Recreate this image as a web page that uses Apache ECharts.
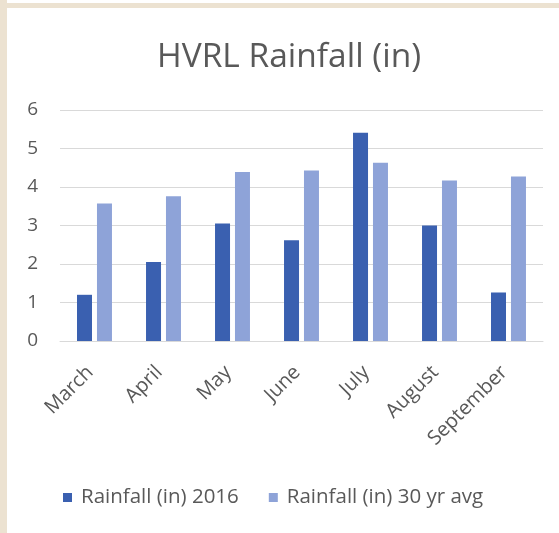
<!DOCTYPE html>
<html>
<head>
<meta charset="utf-8">
<script src="https://cdn.jsdelivr.net/npm/echarts@6/dist/echarts.min.js"></script>
<style>
html,body{margin:0;padding:0;background:#fff;}
#c{width:559px;height:533px;}
</style>
</head>
<body>
<div id="c"></div>
<script>
const categories = ['March','April','May','June','July','August','September'];
const rain2016 = [1.2, 2.05, 3.05, 2.62, 5.41, 3.0, 1.26];
const rainAvg = [3.57, 3.76, 4.39, 4.43, 4.63, 4.17, 4.27];
const seriesNames = ['Rainfall (in) 2016', 'Rainfall (in) 30 yr avg'];

const chart = echarts.init(document.getElementById('c'));
chart.setOption({
  animation: false,
  backgroundColor: '#fff',
  graphic: [
    {type:'rect', shape:{x:0,y:0,width:7,height:533}, style:{fill:'#ECE2D1'}, silent:true},
    {type:'rect', shape:{x:0,y:3,width:559,height:5}, style:{fill:'#ECE2D1'}, silent:true}
  ],
  title: {
    text: 'HVRL Rainfall (in)',
    left: 152,
    top: 35,
    textStyle: {fontFamily: 'Open Sans', fontSize: 33.5, fontWeight: 'normal', color: '#595959'}
  },
  legend: {
    bottom: 20,
    left: 58,
    itemWidth: 9,
    itemHeight: 9,
    itemGap: 30,
    icon: 'rect',
    textStyle: {fontFamily: 'Open Sans', fontSize: 20.5, color: '#595959', padding: [0, 0, 0, 4]}
  },
  grid: {left: 60, right: 16, top: 110, bottom: 192},
  xAxis: {
    type: 'category',
    data: categories,
    axisLine: {lineStyle: {color: '#D9D9D9'}},
    axisTick: {show: false},
    axisLabel: {rotate: 45, fontFamily: 'Open Sans', fontSize: 20, color: '#595959', margin: 24, padding: [0, 6, 0, 0]}
  },
  yAxis: {
    type: 'value',
    min: 0, max: 6, interval: 1,
    axisLine: {show: false},
    axisTick: {show: false},
    splitLine: {lineStyle: {color: '#D9D9D9'}},
    axisLabel: {fontFamily: 'Open Sans', fontSize: 19, color: '#595959', margin: 22}
  },
  series: [
    {name: seriesNames[0], type: 'bar', data: rain2016, barWidth: 15, barGap: '33%', itemStyle: {color: '#3A60B0'}},
    {name: seriesNames[1], type: 'bar', data: rainAvg, barWidth: 15, itemStyle: {color: '#8EA3D8'}}
  ]
});
</script>
</body>
</html>
